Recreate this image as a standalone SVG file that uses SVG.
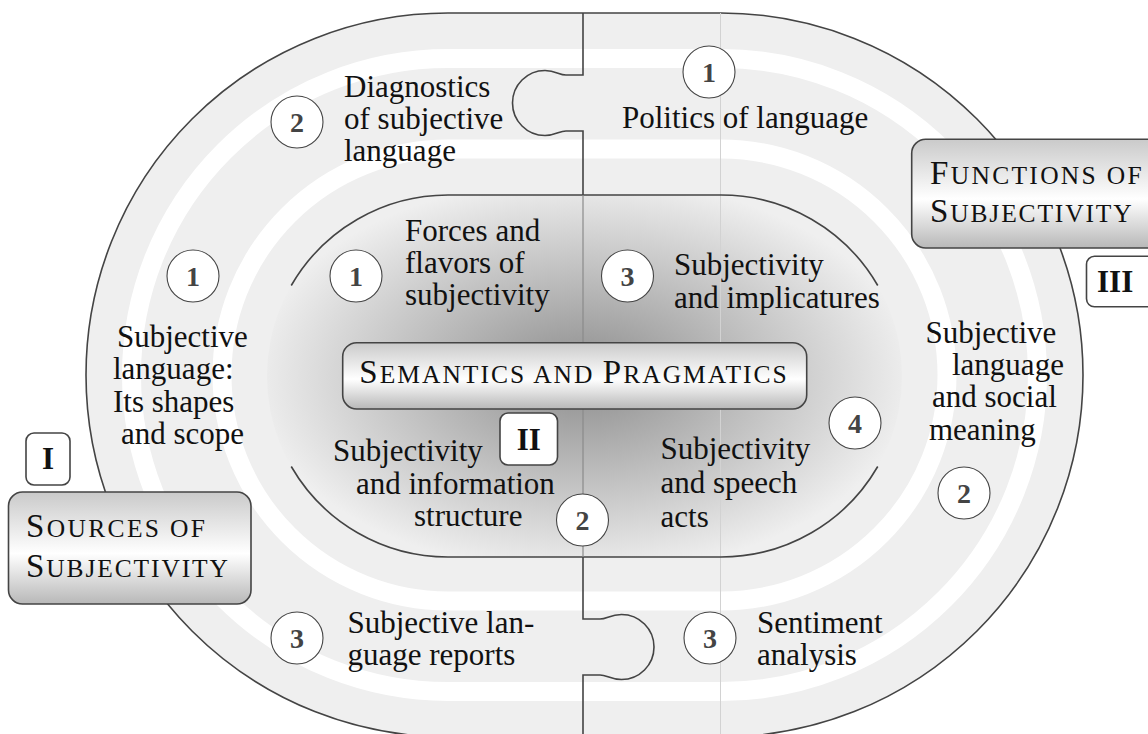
<svg xmlns="http://www.w3.org/2000/svg" width="1148" height="734" viewBox="0 0 1148 734">
<defs>
<radialGradient id="core" gradientUnits="userSpaceOnUse" cx="583" cy="376" r="330" gradientTransform="translate(583 376) scale(1 0.6) translate(-583 -376)">
<stop offset="0" stop-color="#8c8c8c"/>
<stop offset="1" stop-color="#efefef"/>
</radialGradient>
<linearGradient id="boxg" x1="0" y1="0" x2="0" y2="1">
<stop offset="0" stop-color="#cacaca"/>
<stop offset="0.55" stop-color="#ffffff"/>
<stop offset="1" stop-color="#b8b8b8"/>
</linearGradient>
</defs>
<style>
.t{font-family:"Liberation Serif","Times New Roman",serif;font-size:31px;fill:#111}
.n{font-family:"Liberation Serif","Times New Roman",serif;font-size:28px;font-weight:bold;fill:#444;text-anchor:middle}
.c{fill:#fff;stroke:#444;stroke-width:1.1}
.h{font-family:"Liberation Serif","Times New Roman",serif;font-size:33px;fill:#111}
.sc{font-size:25.5px}
.b{font-family:"Liberation Serif","Times New Roman",serif;font-size:31px;font-weight:bold;fill:#111;text-anchor:middle}
.box{fill:url(#boxg);stroke:#444;stroke-width:1.6}
.lbl{fill:#fff;stroke:#444;stroke-width:1.6}
.edge{fill:none;stroke:#444;stroke-width:1.6}
.band{fill:none;stroke:#fff;stroke-width:19}
</style>
<rect width="1148" height="734" fill="#fff"/>
<g id="tracks">
<path d="M448,13 H721 A362,362 0 0 1 721,737 H448 A362,362 0 0 1 448,13 Z" fill="#efefef" stroke="#444" stroke-width="1.6"/>
<path class="band" d="M448,58.5 H721 A316.5,316.5 0 0 1 721,691.5 H448 A316.5,316.5 0 0 1 448,58.5 Z"/>
<path class="band" d="M448,149 H721 A226,226 0 0 1 721,601 H448 A226,226 0 0 1 448,149 Z"/>
<path d="M448,195 H721 A181,181 0 0 1 721,557 H448 A181,181 0 0 1 448,195 Z" fill="url(#core)"/>
<line x1="720.5" y1="13" x2="720.5" y2="737" stroke="#d2d2d2" stroke-width="1"/>
</g>
<g id="connectors">
<path class="edge" d="M291.25,285.5 A181,181 0 0 1 448,195 H721 A181,181 0 0 1 877.75,285.5"/>
<path class="edge" d="M291.25,466.5 A181,181 0 0 0 448,557 H721 A181,181 0 0 0 877.75,466.5"/>
<line x1="583" y1="195" x2="583" y2="557" stroke="#8a8a8a" stroke-width="1.2"/>
<path class="edge" d="M583,13 V75 H566 C559,75 556,70.5 545,70.5 A32.5,32.5 0 0 0 545,135.5 C556,135.5 559,131 566,131 H583 V195"/>
<path class="edge" d="M583,557 V619 H600 C607,619 610,614.5 621.5,614.5 A32.5,32.5 0 0 1 621.5,679.5 C610,679.5 607,675 600,675 H583 V737"/>
</g>
<g id="center">
<rect class="box" x="342.7" y="342.7" width="464" height="66.3" rx="14"/>
<text class="h" x="359.3" y="383.3" textLength="427.4" lengthAdjust="spacing">S<tspan class="sc">EMANTICS AND </tspan>P<tspan class="sc">RAGMATICS</tspan></text>
</g>
<g id="label-II">
<rect class="lbl" x="500" y="413" width="57.5" height="52" rx="8"/>
<text class="b" x="528.7" y="449.5">II</text>
</g>
<g id="sources">
<rect class="box" x="8.5" y="492" width="242.5" height="112" rx="14"/>
<text class="h" x="26" y="537" textLength="179" lengthAdjust="spacing">S<tspan class="sc">OURCES OF</tspan></text>
<text class="h" x="26" y="577" textLength="202" lengthAdjust="spacing">S<tspan class="sc">UBJECTIVITY</tspan></text>
</g>
<g id="label-I">
<rect class="lbl" x="26" y="433" width="44" height="52" rx="8"/>
<text class="b" x="48" y="469">I</text>
</g>
<g id="functions">
<rect class="box" x="911.7" y="139.3" width="260" height="108.7" rx="14"/>
<text class="h" x="930" y="184.3" textLength="211.7" lengthAdjust="spacing">F<tspan class="sc">UNCTIONS OF</tspan></text>
<text class="h" x="930" y="221.7" textLength="201.7" lengthAdjust="spacing">S<tspan class="sc">UBJECTIVITY</tspan></text>
</g>
<g id="label-III">
<rect class="lbl" x="1086.5" y="256.3" width="90" height="50.5" rx="8"/>
<text class="b" x="1097" y="291.7" style="text-anchor:start">III</text>
</g>
<g id="diagnostics">
<circle class="c" cx="297" cy="122" r="26"/>
<text class="n" x="297" y="131.5">2</text>
<text class="t" x="344" y="96.5">Diagnostics</text>
<text class="t" x="344" y="128.5">of subjective</text>
<text class="t" x="344" y="160.5">language</text>
</g>
<g id="politics">
<circle class="c" cx="709" cy="72" r="26"/>
<text class="n" x="709" y="81.5">1</text>
<text class="t" x="622" y="128">Politics of language</text>
</g>
<g id="shapes-scope">
<circle class="c" cx="193" cy="276" r="26"/>
<text class="n" x="193" y="285.5">1</text>
<text class="t" x="117" y="347">Subjective</text>
<text class="t" x="113" y="379">language:</text>
<text class="t" x="113" y="411.5">Its shapes</text>
<text class="t" x="121" y="443.5">and scope</text>
</g>
<g id="forces">
<circle class="c" cx="356" cy="276" r="26"/>
<text class="n" x="356" y="285.5">1</text>
<text class="t" x="405" y="240.5">Forces and</text>
<text class="t" x="405" y="272.7">flavors of</text>
<text class="t" x="405" y="305">subjectivity</text>
</g>
<g id="implicatures">
<circle class="c" cx="627.5" cy="276" r="26"/>
<text class="n" x="627.5" y="285.5">3</text>
<text class="t" x="674" y="274.5">Subjectivity</text>
<text class="t" x="674" y="308">and implicatures</text>
</g>
<g id="information-structure">
<text class="t" x="333" y="461">Subjectivity</text>
<text class="t" x="356" y="494">and information</text>
<text class="t" x="414" y="526">structure</text>
<circle class="c" cx="582.5" cy="520" r="26"/>
<text class="n" x="582.5" y="529.5">2</text>
</g>
<g id="speech-acts">
<circle class="c" cx="855" cy="423" r="26"/>
<text class="n" x="855" y="432.5">4</text>
<text class="t" x="660.5" y="459.3">Subjectivity</text>
<text class="t" x="660.5" y="492.5">and speech</text>
<text class="t" x="660.5" y="527">acts</text>
</g>
<g id="social-meaning">
<text class="t" x="925.5" y="343">Subjective</text>
<text class="t" x="952" y="375">language</text>
<text class="t" x="932" y="407">and social</text>
<text class="t" x="929" y="440">meaning</text>
<circle class="c" cx="964" cy="493" r="26"/>
<text class="n" x="964" y="502.5">2</text>
</g>
<g id="reports">
<circle class="c" cx="297" cy="638" r="26"/>
<text class="n" x="297" y="647.5">3</text>
<text class="t" x="347.5" y="633">Subjective lan-</text>
<text class="t" x="347.5" y="665">guage reports</text>
</g>
<g id="sentiment">
<circle class="c" cx="710" cy="638" r="26"/>
<text class="n" x="710" y="647.5">3</text>
<text class="t" x="757" y="633">Sentiment</text>
<text class="t" x="757" y="665">analysis</text>
</g>
</svg>
